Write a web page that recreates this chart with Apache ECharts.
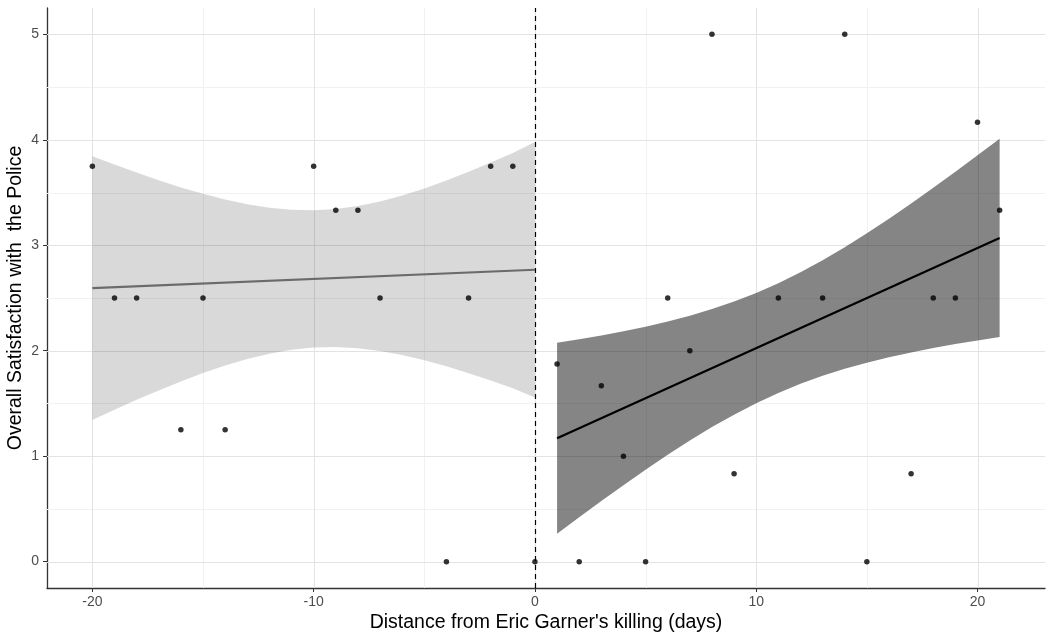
<!DOCTYPE html>
<html>
<head>
<meta charset="utf-8">
<script src="https://cdn.jsdelivr.net/npm/echarts@6/dist/echarts.min.js"></script>
<style>
  html, body { margin: 0; padding: 0; background: #fff; }
  #main { width: 1048px; height: 638px; }
</style>
</head>
<body>
<div id="main"></div>
<script>
// 散点：事件前 / 事件后
var beforePoints = [
    [-20, 3.75], [-19, 2.5], [-18, 2.5], [-16, 1.25], [-15, 2.5], [-14, 1.25],
    [-10, 3.75], [-9, 3.333], [-8, 3.333], [-7, 2.5], [-4, 0], [-3, 2.5],
    [-2, 3.75], [-1, 3.75], [0, 0]
];
var afterPoints = [
    [1, 1.875], [2, 0], [3, 1.667], [4, 1], [5, 0], [6, 2.5], [7, 2], [8, 5],
    [9, 0.833], [11, 2.5], [13, 2.5], [14, 5], [15, 0], [17, 0.833], [18, 2.5],
    [19, 2.5], [20, 4.167], [21, 3.333]
];

// 拟合线
var beforeFit = [[-20, 2.594], [0, 2.768]];
var afterFit = [[1, 1.17], [21, 3.07]];

// 置信带 [x, 下, 上]
var beforeBand = [
    [-20, 1.344, 3.844], [-19, 1.44, 3.765], [-18, 1.534, 3.689], [-17, 1.624, 3.617],
    [-16, 1.708, 3.549], [-15, 1.788, 3.488], [-14, 1.859, 3.433], [-13, 1.921, 3.388],
    [-12, 1.972, 3.355], [-11, 2.009, 3.336], [-10, 2.03, 3.332], [-9, 2.035, 3.344],
    [-8, 2.024, 3.373], [-7, 1.998, 3.416], [-6, 1.959, 3.473], [-5, 1.91, 3.539],
    [-4, 1.852, 3.615], [-3, 1.787, 3.697], [-2, 1.717, 3.784], [-1, 1.643, 3.875],
    [0, 1.556, 3.98]
];
var afterBand = [
    [1, 0.265, 2.075], [2, 0.421, 2.109], [3, 0.575, 2.145], [4, 0.725, 2.185],
    [5, 0.872, 2.228], [6, 1.013, 2.277], [7, 1.148, 2.332], [8, 1.276, 2.395],
    [9, 1.394, 2.466], [10, 1.503, 2.548], [11, 1.6, 2.64], [12, 1.686, 2.744],
    [13, 1.762, 2.858], [14, 1.828, 2.982], [15, 1.887, 3.114], [16, 1.938, 3.252],
    [17, 1.984, 3.397], [18, 2.025, 3.545], [19, 2.063, 3.698], [20, 2.097, 3.853],
    [21, 2.13, 4.01]
];

// 刻度
var xTicks = [-20, -10, 0, 10, 20];
var xMinor = [-15, -5, 5, 15];
var yTicks = [0, 1, 2, 3, 4, 5];
var yMinor = [0.5, 1.5, 2.5, 3.5, 4.5];

var chart = echarts.init(document.getElementById('main'));

var bandSeries = function (band, color) {
    return {
        type: 'custom',
        silent: true,
        clip: true,
        z: 2,
        data: band,
        renderItem: function (params, api) {
            if (params.dataIndex !== 0) return null;
            var pts = [];
            for (var i = 0; i < band.length; i++) {
                pts.push(api.coord([band[i][0], band[i][2]]));
            }
            for (var j = band.length - 1; j >= 0; j--) {
                pts.push(api.coord([band[j][0], band[j][1]]));
            }
            return {
                type: 'polygon',
                shape: { points: pts },
                style: { fill: color }
            };
        }
    };
};

// 网格线（画在置信带下面）
var gridSeries = {
    type: 'custom',
    silent: true,
    z: 1,
    data: [0],
    renderItem: function (params, api) {
        var cs = params.coordSys;
        var left = cs.x, right = cs.x + cs.width, top = cs.y, bottom = cs.y + cs.height;
        var kids = [];
        var addV = function (v, color) {
            var x = Math.round(api.coord([v, 0])[0]) + 0.5;
            kids.push({ type: 'line', shape: { x1: x, y1: top, x2: x, y2: bottom },
                style: { stroke: color, lineWidth: 1 } });
        };
        var addH = function (v, color) {
            var y = Math.round(api.coord([0, v])[1]) + 0.5;
            kids.push({ type: 'line', shape: { x1: left, y1: y, x2: right, y2: y },
                style: { stroke: color, lineWidth: 1 } });
        };
        xMinor.forEach(function (v) { addV(v, '#f1f1f1'); });
        yMinor.forEach(function (v) { addH(v, '#f1f1f1'); });
        xTicks.forEach(function (v) { addV(v, '#e3e3e3'); });
        yTicks.forEach(function (v) { addH(v, '#e3e3e3'); });
        return { type: 'group', children: kids };
    }
};

var font = '"Liberation Sans", Arial, Helvetica, sans-serif';

var option = {
    animation: false,
    backgroundColor: '#fff',
    grid: { left: 47, right: 3, top: 8, bottom: 50, containLabel: false, outerBoundsMode: 'none' },
    xAxis: {
        type: 'value',
        min: -22.05,
        max: 23.05,
        name: "Distance from Eric Garner's killing (days)",
        nameLocation: 'middle',
        nameGap: 25,
        nameMoveOverlap: false,
        nameTextStyle: { fontFamily: font, fontSize: 19.5, color: '#000' },
        splitLine: { show: false },
        axisLine: { show: true, onZero: false, lineStyle: { color: '#333', width: 1.3 } },
        axisTick: { show: true, length: 4, customValues: xTicks, lineStyle: { color: '#333' } },
        axisLabel: { customValues: xTicks, margin: 7, fontFamily: font, fontSize: 14, color: '#4d4d4d' }
    },
    yAxis: {
        type: 'value',
        min: -0.25,
        max: 5.25,
        name: 'Overall Satisfaction with  the Police',
        nameLocation: 'middle',
        nameGap: 21,
        nameMoveOverlap: false,
        nameTextStyle: { fontFamily: font, fontSize: 19.5, color: '#000' },
        splitLine: { show: false },
        axisLine: { show: true, onZero: false, lineStyle: { color: '#333', width: 1.3 } },
        axisTick: { show: true, length: 4, customValues: yTicks, lineStyle: { color: '#333' } },
        axisLabel: { customValues: yTicks, margin: 8, fontFamily: font, fontSize: 14, color: '#4d4d4d' }
    },
    series: [
        gridSeries,
        bandSeries(beforeBand, 'rgba(0,0,0,0.15)'),
        bandSeries(afterBand, 'rgba(0,0,0,0.48)'),
        {
            type: 'line',
            data: beforeFit,
            showSymbol: false,
            z: 3,
            lineStyle: { color: '#6b6b6b', width: 2.2 }
        },
        {
            type: 'line',
            data: afterFit,
            showSymbol: false,
            z: 3,
            lineStyle: { color: '#000', width: 2.2 }
        },
        {
            type: 'scatter',
            data: beforePoints.concat(afterPoints),
            symbolSize: 5.5,
            z: 4,
            itemStyle: { color: '#000' }
        },
        {
            // 事件分界线
            type: 'line',
            data: [],
            z: 5,
            markLine: {
                silent: true,
                symbol: 'none',
                label: { show: false },
                animation: false,
                data: [{ xAxis: 0, lineStyle: { color: '#000', width: 1.2, type: [5, 4] } }]
            }
        }
    ]
};

chart.setOption(option);
</script>
</body>
</html>
